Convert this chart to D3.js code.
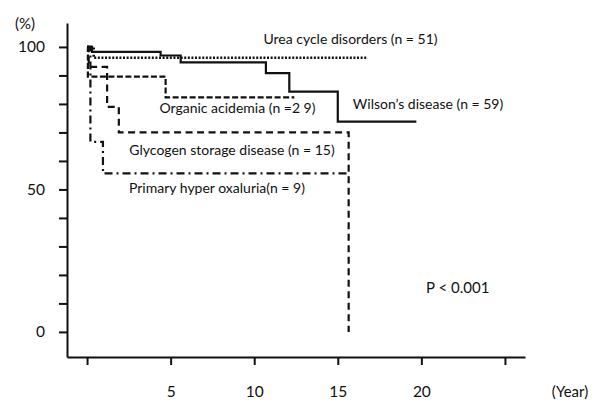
<!DOCTYPE html>
<html>
<head>
<meta charset="utf-8">
<script src="https://cdn.jsdelivr.net/npm/d3@7"></script>
<style>
  body { margin: 0; background: #fff; }
  text { font-family: "Lato", "Open Sans", sans-serif; fill: #111; }
</style>
</head>
<body>
<script>
// Survival curves: [year, percent], step after each point.
const wilson = [[0, 100], [0.3, 98.3], [4.4, 97], [5.6, 94.6], [10.7, 90.8], [12.1, 84.3], [15, 73.8], [19.7, 73.8]];
const ureaCycle = [[0, 100], [0.4, 96.2], [16.8, 96.2]];
const organicAcidemia = [[0, 100], [0.05, 89.6], [4.7, 82.3], [12.4, 82.3]];
const glycogenStorage = [[0, 100], [0.1, 93], [1.2, 79], [1.9, 70], [15.65, 0]];
const hyperOxaluria = [[0, 100], [0.2, 66.7], [0.95, 55.6], [15.65, 55.6]];

const seriesNames = [
  "Wilson\u2019s disease (n = 59)",
  "Urea cycle disorders (n = 51)",
  "Organic acidemia (n =2 9)",
  "Glycogen storage disease (n = 15)",
  "Primary hyper oxaluria(n = 9)"
];

const yTicks = [0, 10, 20, 30, 40, 50, 60, 70, 80, 90, 100];
const yTickLabels = ["0", "", "", "", "", "50", "", "", "", "", "100"];
const xTicks = [0, 5, 10, 15, 20, 25];
const xTickLabels = ["", "5", "10", "15", "20", ""];

const width = 593;
const height = 401;

let svg = d3.select("body")
    .append("svg")
    .attr("width", width)
    .attr("height", height);

let x = d3.scaleLinear().domain([-1.2, 26.2]).range([67, 525]);
let y = d3.scaleLinear().domain([-8.8, 108.4]).range([357, 23]);

// Axes
let yAxis = svg.append("g")
    .attr("transform", "translate(67,0)")
    .call(d3.axisLeft(y)
      .tickValues(yTicks)
      .tickSizeInner(8)
      .tickSizeOuter(0)
      .tickPadding(14)
      .tickFormat((d, i) => yTickLabels[i]));

let xAxis = svg.append("g")
    .attr("transform", "translate(0,357)")
    .call(d3.axisBottom(x)
      .tickValues(xTicks)
      .tickSizeInner(8)
      .tickSizeOuter(0)
      .tickPadding(21)
      .tickFormat((d, i) => xTickLabels[i]));

svg.selectAll(".domain, .tick line")
    .attr("stroke", "#111")
    .attr("stroke-width", 2);
svg.selectAll(".tick text")
    .style("font-size", "15.5px")
    .attr("fill", "#111");

svg.append("text").attr("x", 15).attr("y", 29).style("font-size", "15px").text("(%)");
svg.append("text").attr("x", 570).attr("y", 397).attr("text-anchor", "middle")
    .style("font-size", "15px").text("(Year)");

// Curves
const styles = [
  { data: wilson, dash: null, w: 2.2 },
  { data: ureaCycle, dash: "2,1.6", w: 2.6 },
  { data: organicAcidemia, dash: "6,2.5", w: 2.2 },
  { data: glycogenStorage, dash: "7,4.5", w: 2.2 },
  { data: hyperOxaluria, dash: "8,4,2,4", w: 2.2 }
];

let line = d3.line()
    .x(d => x(d[0]))
    .y(d => y(d[1]))
    .curve(d3.curveStepAfter);

svg.selectAll(".curve")
    .data(styles)
    .enter()
        .append("path")
        .attr("class", "curve")
        .attr("d", d => line(d.data))
        .attr("fill", "none")
        .attr("stroke", "#111")
        .attr("stroke-width", d => d.w)
        .attr("stroke-dasharray", d => d.dash);

// Curve labels, placed in data units
const labelAt = [[15.9, 78.2], [10.55, 101], [4.33, 76.8], [2.53, 62.1], [2.51, 48.7]];

svg.selectAll(".label")
    .data(seriesNames)
    .enter()
        .append("text")
        .attr("class", "label")
        .attr("x", (d, i) => x(labelAt[i][0]))
        .attr("y", (d, i) => y(labelAt[i][1]))
        .style("font-size", "14px")
        .text(d => d);

svg.append("text")
    .attr("x", x(20.28))
    .attr("y", y(13.6))
    .style("font-size", "15px")
    .text("P < 0.001");
</script>
</body>
</html>
